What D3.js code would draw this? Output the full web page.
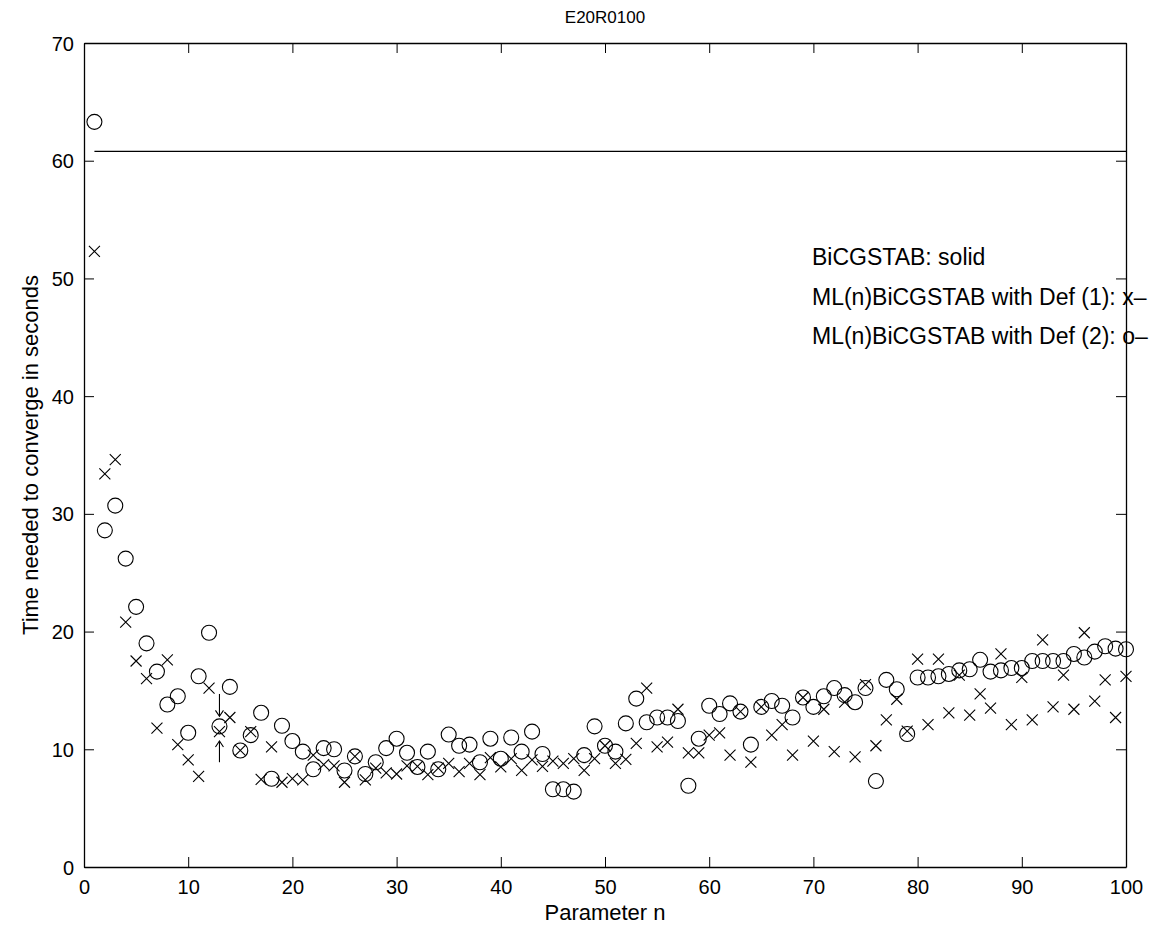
<!DOCTYPE html>
<html>
<head>
<meta charset="utf-8">
<script src="https://cdn.jsdelivr.net/npm/d3@7"></script>
<style>
  body { margin: 0; background: #fff; }
  #plot-div text { font-family: "Liberation Sans", Arial, Helvetica, sans-serif; fill: #000; }
</style>
</head>
<body>
<div id="plot-div"></div>
<script>
// parameter n on the x axis
var paramN = d3.range(1, 101);

// ML(n)BiCGSTAB with Def (1), plotted with x
var defOneTimes = [
  52.3, 33.4, 34.6, 20.8, 17.5, 16.0, 11.8, 17.6, 10.4, 9.1,
  7.7, 15.2, 11.5, 12.7, 9.9, 11.5, 7.45, 10.2, 7.2, 7.5,
  7.4, 9.5, 8.7, 8.6, 7.2, 9.4, 7.4, 8.4, 8.0, 7.9,
  8.6, 8.55, 7.85, 8.4, 8.8, 8.1, 8.8, 7.85, 9.3, 8.5,
  9.2, 8.2, 9.1, 8.55, 9.0, 8.8, 9.2, 8.2, 9.2, 10.3,
  8.8, 9.15, 10.5, 15.2, 10.2, 10.6, 13.4, 9.7, 9.7, 11.2,
  11.4, 9.5, 13.2, 8.9, 13.6, 11.2, 12.1, 9.5, 14.4, 10.7,
  13.4, 9.8, 14.0, 9.35, 15.5, 10.3, 12.5, 14.25, 11.55, 17.65,
  12.1, 17.65, 13.1, 16.3, 12.9, 14.7, 13.5, 18.1, 12.1, 16.1,
  12.5, 19.3, 13.6, 16.3, 13.4, 19.9, 14.1, 15.9, 12.7, 16.2
];

// ML(n)BiCGSTAB with Def (2), plotted with o
var defTwoTimes = [
  63.3, 28.6, 30.7, 26.2, 22.1, 19.0, 16.6, 13.8, 14.5, 11.4,
  16.2, 19.9, 11.95, 15.3, 9.9, 11.2, 13.1, 7.5, 12.0, 10.7,
  9.8, 8.3, 10.1, 10.0, 8.2, 9.4, 7.9, 8.9, 10.1, 10.9,
  9.7, 8.5, 9.8, 8.3, 11.25, 10.3, 10.4, 8.9, 10.9, 9.2,
  11.0, 9.8, 11.5, 9.6, 6.6, 6.6, 6.4, 9.5, 11.95, 10.3,
  9.8, 12.2, 14.3, 12.3, 12.7, 12.7, 12.4, 6.9, 10.9, 13.7,
  13.0, 13.9, 13.2, 10.4, 13.6, 14.1, 13.7, 12.7, 14.4, 13.6,
  14.5, 15.2, 14.6, 14.0, 15.2, 7.3, 15.9, 15.1, 11.3, 16.1,
  16.1, 16.2, 16.4, 16.7, 16.8, 17.6, 16.6, 16.7, 16.9, 16.9,
  17.5, 17.5, 17.5, 17.5, 18.1, 17.8, 18.3, 18.75, 18.55, 18.5
];

// plain BiCGSTAB, drawn as a solid line from n=1 to n=100
var bicgstabTime = 60.8;

// the two little arrows pointing at n = 13
var arrowN = [13, 13];
var arrowFrom = [14.7, 8.9];
var arrowTo = [12.8, 10.7];

var xTicks = [0, 10, 20, 30, 40, 50, 60, 70, 80, 90, 100];
var yTicks = [0, 10, 20, 30, 40, 50, 60, 70];
var legendLines = ["BiCGSTAB: solid", "ML(n)BiCGSTAB with Def (1): x\u2013", "ML(n)BiCGSTAB with Def (2): o\u2013"];

function ConvergencePlot(){
    var self = this;
    self.init();
}; // end constructor

ConvergencePlot.prototype.init = function(){
    var self = this;
    self.svgWidth = 1157;
    self.svgHeight = 930;
    self.margin = {top: 43, right: 31, bottom: 63, left: 84};
    self.width = self.svgWidth - self.margin.left - self.margin.right;
    self.height = self.svgHeight - self.margin.top - self.margin.bottom;

    self.svg = d3.select("#plot-div").append("svg")
        .attr("width", self.svgWidth)
        .attr("height", self.svgHeight)
        .append("g")
        .attr("transform", "translate(" + self.margin.left + "," + self.margin.top + ")");

    self.x = d3.scaleLinear().domain([0, 100]).range([0, self.width]);
    self.y = d3.scaleLinear().domain([0, 70]).range([self.height, 0]);
}; // end init()

ConvergencePlot.prototype.drawAxes = function(){
    var self = this;
    var tick = 10;
    var fs = "20px";
    var labelFs = "22px";

    // matlab style: ticks point inwards on all four sides
    var bottom = self.svg.append("g")
        .attr("transform", "translate(0," + self.height + ")")
        .call(d3.axisBottom(self.x).tickValues(xTicks).tickSize(-tick).tickPadding(8).tickSizeOuter(0));
    bottom.selectAll("text").style("font-size", fs).attr("dy", "0.95em");

    var left = self.svg.append("g")
        .call(d3.axisLeft(self.y).tickValues(yTicks).tickSize(-tick).tickPadding(10).tickSizeOuter(0));
    left.selectAll("text").style("font-size", fs).attr("dy", "0.35em");

    self.svg.append("g")
        .call(d3.axisTop(self.x).tickValues(xTicks).tickSize(-tick).tickFormat("").tickSizeOuter(0));
    self.svg.append("g")
        .attr("transform", "translate(" + self.width + ",0)")
        .call(d3.axisRight(self.y).tickValues(yTicks).tickSize(-tick).tickFormat("").tickSizeOuter(0));

    self.svg.selectAll(".domain").attr("stroke", "#000").attr("stroke-width", 1.3);
    self.svg.selectAll(".tick line").attr("stroke", "#000").attr("stroke-width", 1);

    // title and labels
    self.svg.append("text")
        .attr("x", self.width / 2).attr("y", -20)
        .attr("text-anchor", "middle").style("font-size", "17px")
        .text("E20R0100");
    self.svg.append("text")
        .attr("x", self.width / 2).attr("y", self.height + 53)
        .attr("text-anchor", "middle").style("font-size", labelFs)
        .text("Parameter n");
    self.svg.append("text")
        .attr("transform", "translate(-46," + (self.height / 2) + ") rotate(-90)")
        .attr("text-anchor", "middle").style("font-size", labelFs)
        .text("Time needed to converge in seconds");
}; // end drawAxes()

ConvergencePlot.prototype.update = function(){
    var self = this;
    var data = paramN.map(function(n, i){
        return {n: n, one: defOneTimes[i], two: defTwoTimes[i]};
    });

    // BiCGSTAB reference line
    self.svg.append("line")
        .attr("x1", self.x(paramN[0])).attr("x2", self.x(paramN[paramN.length - 1]))
        .attr("y1", self.y(bicgstabTime)).attr("y2", self.y(bicgstabTime))
        .attr("stroke", "#000").attr("stroke-width", 1.2);

    // Def (1): crosses
    var s = 5.5;
    self.svg.selectAll(".cross")
        .data(data)
        .enter()
        .append("path")
        .attr("class", "cross")
        .attr("transform", function(d){ return "translate(" + self.x(d.n) + "," + self.y(d.one) + ")"; })
        .attr("d", "M" + (-s) + "," + (-s) + "L" + s + "," + s + "M" + (-s) + "," + s + "L" + s + "," + (-s))
        .attr("stroke", "#000").attr("stroke-width", 1.1).attr("fill", "none");

    // Def (2): circles
    self.svg.selectAll(".circ")
        .data(data)
        .enter()
        .append("circle")
        .attr("class", "circ")
        .attr("cx", function(d){ return self.x(d.n); })
        .attr("cy", function(d){ return self.y(d.two); })
        .attr("r", 7.5)
        .attr("stroke", "#000").attr("stroke-width", 1.1).attr("fill", "none");

    // arrows at n=13
    arrowN.forEach(function(n, i){
        var x0 = self.x(n), y0 = self.y(arrowFrom[i]), y1 = self.y(arrowTo[i]);
        var dir = y1 > y0 ? -1 : 1;
        self.svg.append("line")
            .attr("x1", x0).attr("x2", x0).attr("y1", y0).attr("y2", y1)
            .attr("stroke", "#000").attr("stroke-width", 1.1);
        self.svg.append("path")
            .attr("d", "M" + (x0 - 4) + "," + (y1 + dir * 6) + "L" + x0 + "," + y1 + "L" + (x0 + 4) + "," + (y1 + dir * 6))
            .attr("stroke", "#000").attr("stroke-width", 1.1).attr("fill", "none");
    });

    // legend as plain text lines
    self.svg.selectAll(".legend-line")
        .data(legendLines)
        .enter()
        .append("text")
        .attr("class", "legend-line")
        .attr("x", 728)
        .attr("y", function(d, i){ return 222 + i * 39.5; })
        .style("font-size", "23px")
        .text(function(d){ return d; });
}; // end update()

var plot = new ConvergencePlot();
plot.drawAxes();
plot.update();
</script>
</body>
</html>
